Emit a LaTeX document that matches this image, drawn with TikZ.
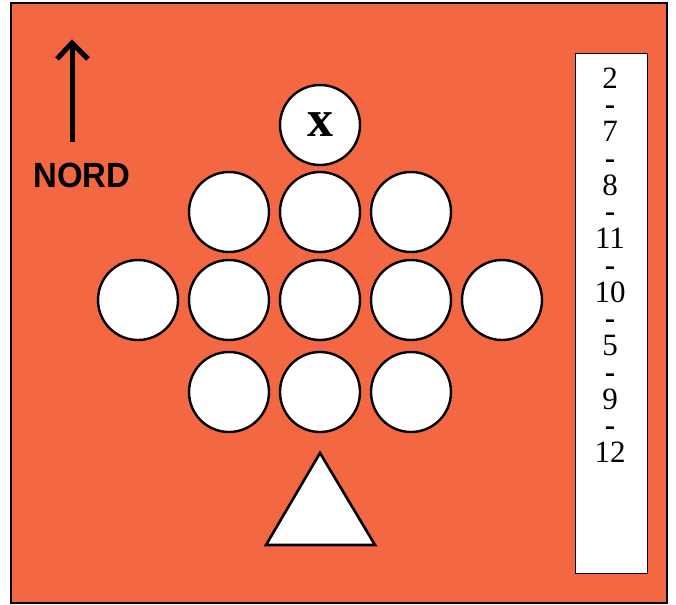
\documentclass[tikz,border=0pt]{standalone}
\usepackage{fontspec}
\setmainfont{Liberation Serif}
\newfontfamily\nordfont{Liberation Sans}
\definecolor{bgorange}{RGB}{243,103,66}
\tikzset{
  hole/.style={circle, draw=black, line width=2.4pt, fill=white, minimum size=80pt, inner sep=0pt},
  seqtxt/.style={inner sep=0pt, align=center, font=\fontsize{31}{26.75}\selectfont},
}
\newcommand{\sepdash}{\textbf{-}}
\begin{document}
\begin{tikzpicture}[x=1pt,y=-1pt]
\useasboundingbox (0,0) rectangle (676,604);
\fill[white] (0,0) rectangle (676,604);
% board
\draw[line width=2pt, fill=bgorange] (11,3) rectangle (667,603);
% north arrow
\coordinate (arrbot) at (72,142);
\coordinate (arrtop) at (72,44);
\draw[line width=5pt] (arrbot) -- (arrtop);
\draw[line width=5pt, miter limit=10] (57,59) -- (72,43) -- (88,59);
\node[inner sep=0pt, anchor=center, font=\nordfont\bfseries\fontsize{35}{35}\selectfont, xscale=0.94] (nord) at (82,175) {NORD};
% start circle
\node[hole, font=\bfseries\fontsize{52}{52}\selectfont] (start) at (320,125) {\raisebox{0.5pt}{x}};
% top row
\node[hole] (t1) at (229,212) {};
\node[hole] (t2) at (320,212) {};
\node[hole] (t3) at (411,212) {};
% middle row
\node[hole] (m1) at (138,300) {};
\node[hole] (m2) at (229,300) {};
\node[hole] (m3) at (320,300) {};
\node[hole] (m4) at (411,300) {};
\node[hole] (m5) at (502,300) {};
% bottom row
\node[hole] (b1) at (229,392) {};
\node[hole] (b2) at (320,392) {};
\node[hole] (b3) at (411,392) {};
% triangle
\coordinate (ta) at (320,453);
\coordinate (tl) at (266,545);
\coordinate (tr) at (375,545);
\draw[line width=2.6pt, fill=white, line join=miter] (ta) -- (tl) -- (tr) -- cycle;
% sequence panel
\node[draw, line width=1pt, fill=white, minimum width=72pt, minimum height=519pt, inner sep=0pt] (panel) at (611,313.5) {};
\node[seqtxt, anchor=base] (seq) at (610,462.5) {2\\\sepdash\\7\\\sepdash\\8\\\sepdash\\11\\\sepdash\\10\\\sepdash\\5\\\sepdash\\9\\\sepdash\\12};
\end{tikzpicture}
\end{document}
